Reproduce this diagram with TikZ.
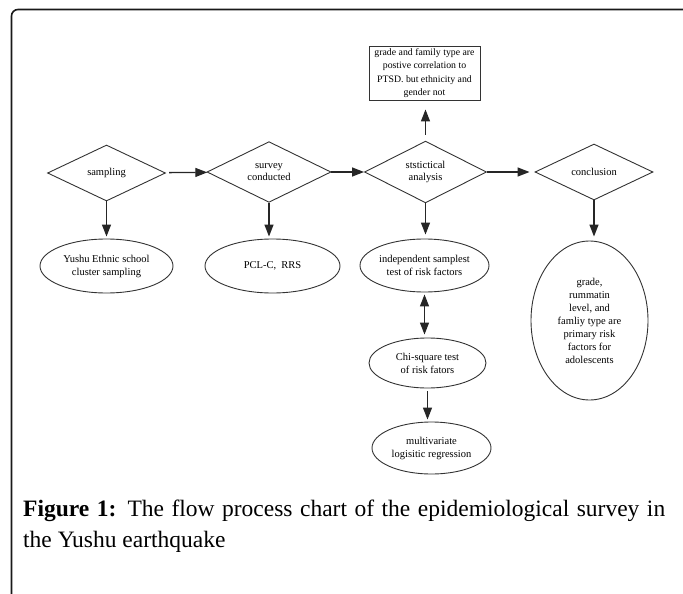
\documentclass[tikz,border=0pt]{standalone}
\usepackage{fontspec}
\setmainfont{Liberation Serif}
\usetikzlibrary{positioning,arrows.meta,shapes.geometric,calc}
\definecolor{trazoGris}{HTML}{333333}
\tikzset{
  etapa/.style={diamond, draw=trazoGris, line width=0.9pt, inner sep=0pt,
    minimum width=118pt, minimum height=56pt, align=center,
    font=\fontsize{10.5}{12.5}\selectfont},
  metodo/.style={ellipse, draw=trazoGris, line width=0.9pt, inner sep=0pt,
    minimum width=130pt, minimum height=54pt, align=center,
    font=\fontsize{10.5}{13}\selectfont},
  nota/.style={rectangle, draw=trazoGris, line width=0.9pt, inner sep=0pt,
    minimum width=111pt, minimum height=54pt, align=center,
    font=\fontsize{9.8}{13.3}\selectfont},
  flechaFlujo/.style={-{Triangle[length=12pt,width=9pt]}, line width=1.3pt, black!85},
  marco/.style={line width=1.6pt, black!90, rounded corners=6.5pt},
}
\begin{document}
\begin{tikzpicture}[x=1pt,y=-1pt]
    \useasboundingbox (0,0) rectangle (683,594);
    \draw[marco] (11.5,594) -- (11.5,9.5) -- (683,9.5);

    \node[etapa] (smp) at (106.5,173) {sampling};
    \node[etapa, minimum width=124pt, minimum height=58pt] (srv) at (269,172) {survey\\conducted};
    \node[etapa, minimum width=122pt, minimum height=58pt] (ana) at (425.5,172) {ststictical\\analysis};
    \node[etapa] (con) at (594,172) {conclusion};
    \node[nota] (res) at (424.5,73) {grade and family type are\\postive correlation to\\PTSD. but ethnicity and\\gender not};

    \node[metodo, minimum width=133pt] (ysh) at (106.5,266) {Yushu Ethnic school\\cluster sampling};
    \node[metodo, minimum width=135pt] (pcl) at (272.5,266) {PCL-C,~ RRS};
    \node[metodo, minimum width=129pt, minimum height=53pt] (ind) at (424.5,265.5) {independent samplest\\test of risk factors};
    \node[metodo, minimum width=117pt, minimum height=50pt] (chi) at (427.5,363) {Chi-square test\\of risk fators};
    \node[metodo, minimum width=119pt, minimum height=52pt] (mlt) at (431.5,448) {multivariate\\logisitic regression};
    \node[metodo, minimum width=117pt, minimum height=159pt] (fac) at (589.5,320.5)
          {grade,\\rummatin\\level, and\\famliy type are\\primary risk\\factors for\\adolescents};

    \node[anchor=north west, text width=642pt, align=justify, inner sep=0pt,
          font=\fontsize{23.5}{31}\selectfont] (leyenda) at (23,500)
          {\textbf{Figure 1:} The flow process chart of the epidemiological survey in\linebreak
           the Yushu earthquake};

    \draw[flechaFlujo, shorten <=4pt] (smp) -- (srv);
    \draw[flechaFlujo] (srv) -- (ana);
    \draw[flechaFlujo, shorten >=5pt] (ana) -- (con);
    \draw[flechaFlujo, shorten >=9pt, shorten <=6pt] (ana.north) -- (ana.north |- res.south);
    \draw[flechaFlujo, shorten >=2pt] (smp) -- (ysh);
    \draw[flechaFlujo, shorten >=2pt] (srv.south) -- (srv.south |- pcl.north);
    \draw[flechaFlujo, shorten >=4pt] (ana.south) -- (ana.south |- ind.north);
    \draw[{Triangle[length=12pt,width=9pt]}-{Triangle[length=12pt,width=9pt]}, line width=1.3pt, black!85,
          shorten <=2pt, shorten >=3pt] (ind.south) -- (ind.south |- chi.north);
    \draw[flechaFlujo, shorten <=3pt, shorten >=2pt] (chi.south) -- (chi.south |- mlt.north);
    \draw[flechaFlujo, shorten >=4pt] (con.south) -- (con.south |- fac.north);
\end{tikzpicture}
\end{document}
